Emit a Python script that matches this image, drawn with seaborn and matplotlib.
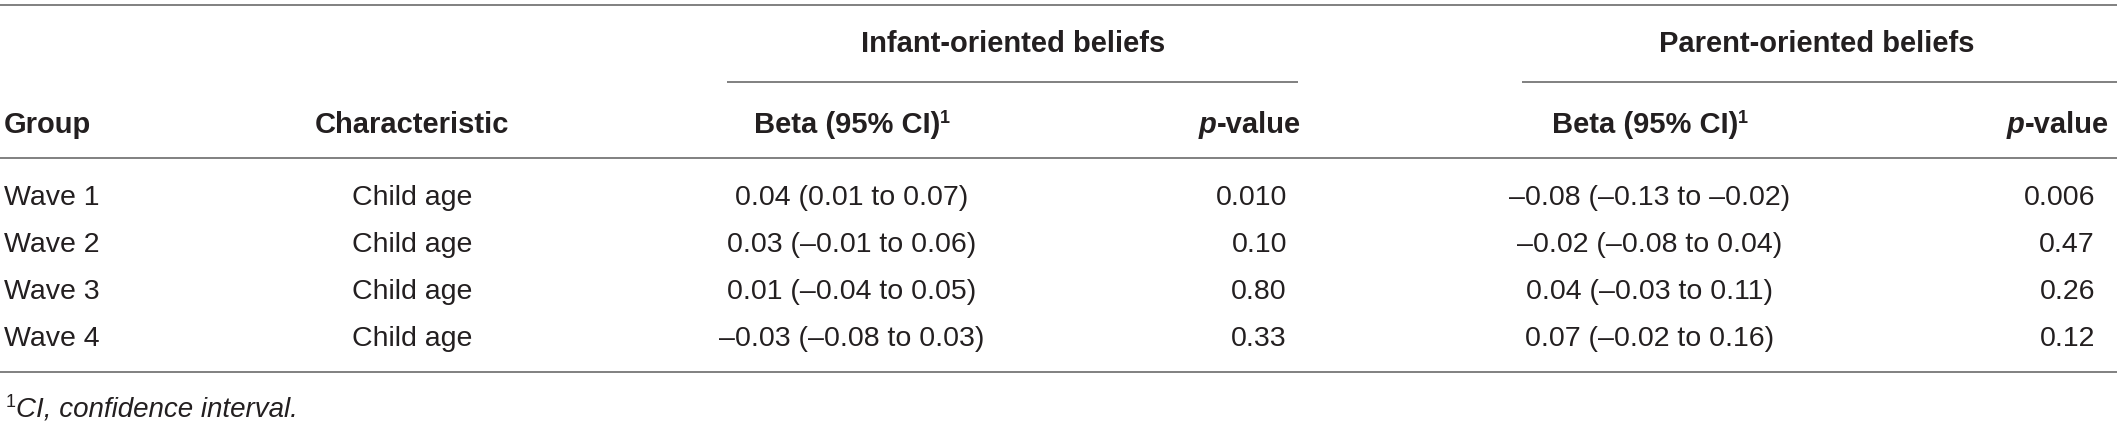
import matplotlib
matplotlib.use("Agg")
import matplotlib.pyplot as plt
import seaborn as sns

# ---- table data ----
groups = ["Wave 1", "Wave 2", "Wave 3", "Wave 4"]
characteristics = ["Child age", "Child age", "Child age", "Child age"]

infant_beta = [0.04, 0.03, 0.01, -0.03]
infant_lo = [0.01, -0.01, -0.04, -0.08]
infant_hi = [0.07, 0.06, 0.05, 0.03]
infant_p = ["0.010", "0.10", "0.80", "0.33"]

parent_beta = [-0.08, -0.02, 0.04, 0.07]
parent_lo = [-0.13, -0.08, -0.03, -0.02]
parent_hi = [-0.02, 0.04, 0.11, 0.16]
parent_p = ["0.006", "0.47", "0.26", "0.12"]

span_headers = ["Infant-oriented beliefs", "Parent-oriented beliefs"]
footnote = "CI, confidence interval."


def fmt(v):
    s = f"{abs(v):.2f}"
    return "\u2013" + s if v < 0 else s


def ci_text(b, lo, hi):
    return f"{fmt(b)} ({fmt(lo)} to {fmt(hi)})"


def draw_runs(ax, renderer, x, y, runs, ha="left"):
    # runs: (text, dy, kwargs) pieces laid out next to each other
    items = []
    for s, dy, kw in runs:
        t = ax.text(0, y - dy, s, ha="left", va="baseline", **kw)
        items.append((t, t.get_window_extent(renderer).width))
    total = sum(w for _, w in items)
    if ha == "center":
        cur = x - total / 2
    elif ha == "right":
        cur = x - total
    else:
        cur = x
    for t, w in items:
        t.set_x(cur)
        cur += w


def main():
    sns.set_theme(style="white")
    plt.rcParams["font.family"] = ["Liberation Sans", "DejaVu Sans"]

    W, H = 2117, 424
    fig = plt.figure(figsize=(W / 100, H / 100), dpi=100)
    ax = fig.add_axes([0, 0, 1, 1])
    ax.set_xlim(0, W)
    ax.set_ylim(H, 0)
    ax.axis("off")
    renderer = fig.canvas.get_renderer()

    txt = "#231f20"
    rule = "#808080"
    body = dict(fontsize=20.5, color=txt)
    bold = dict(fontsize=21, color=txt, fontweight="bold")
    bold_it = dict(fontsize=21, color=txt, fontweight="bold", fontstyle="italic")
    sup = dict(fontsize=13, color=txt, fontweight="bold")

    # column positions
    x_group = 4
    x_char = 412
    x_ib, x_ip, x_ip_r = 852, 1250, 1287
    x_pb, x_pp, x_pp_r = 1650, 2058, 2095

    # rules
    ax.hlines([5, 158, 372], 0, W, color=rule, lw=1.4)
    ax.hlines(82, 727, 1298, color=rule, lw=1.4)
    ax.hlines(82, 1522, W, color=rule, lw=1.4)

    # spanning headers
    ax.text(1013, 52, span_headers[0], ha="center", va="baseline", **bold)
    ax.text(1817, 52, span_headers[1], ha="center", va="baseline", **bold)

    # column headers
    y_head = 133
    ax.text(x_group, y_head, "Group", ha="left", va="baseline", **bold)
    ax.text(x_char, y_head, "Characteristic", ha="center", va="baseline", **bold)
    for xb, xp in [(x_ib, x_ip), (x_pb, x_pp)]:
        draw_runs(ax, renderer, xb, y_head,
                  [("Beta (95% CI)", 0, bold), ("1", 10, sup)], ha="center")
        draw_runs(ax, renderer, xp, y_head,
                  [("p", 0, bold_it), ("-value", 0, bold)], ha="center")

    # body rows
    row_y = [205, 252, 299, 346]
    for i, y in enumerate(row_y):
        ax.text(x_group, y, groups[i], ha="left", va="baseline", **body)
        ax.text(x_char, y, characteristics[i], ha="center", va="baseline", **body)
        ax.text(x_ib, y, ci_text(infant_beta[i], infant_lo[i], infant_hi[i]),
                ha="center", va="baseline", **body)
        ax.text(x_ip_r, y, infant_p[i], ha="right", va="baseline", **body)
        ax.text(x_pb, y, ci_text(parent_beta[i], parent_lo[i], parent_hi[i]),
                ha="center", va="baseline", **body)
        ax.text(x_pp_r, y, parent_p[i], ha="right", va="baseline", **body)

    # footnote
    draw_runs(ax, renderer, 6, 416,
              [("1", 9, dict(fontsize=13, color=txt)),
               (footnote, 0, dict(fontsize=20, color=txt, fontstyle="italic"))])

    fig.savefig("out.png", dpi=100, facecolor="white")
    plt.close(fig)


if __name__ == "__main__":
    main()
